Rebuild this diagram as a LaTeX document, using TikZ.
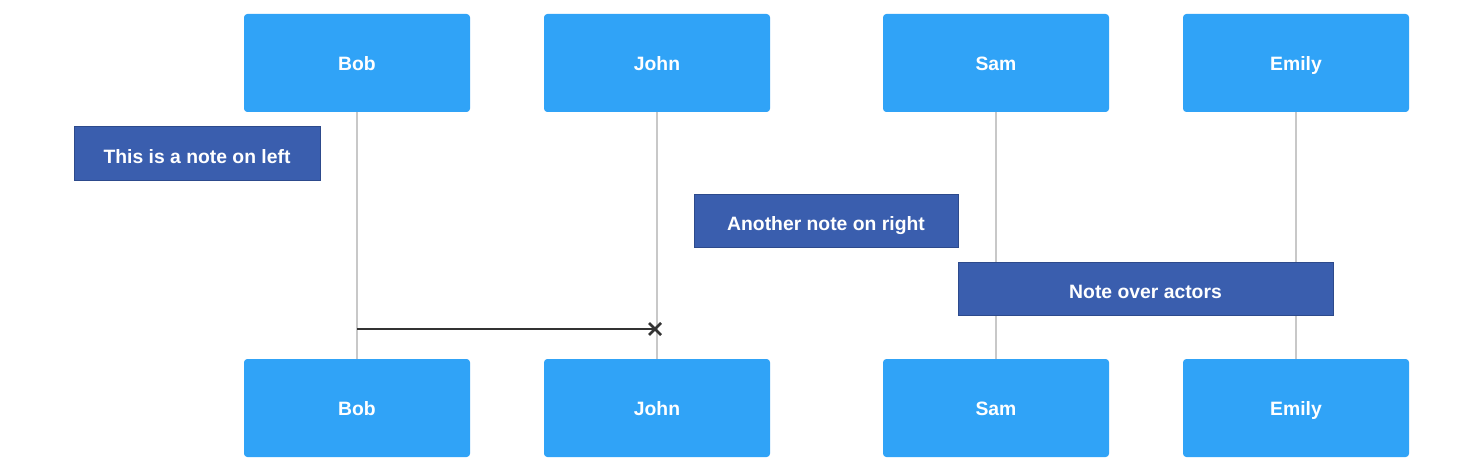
\documentclass[tikz,border=0pt]{standalone}
\usepackage{fontspec}
\setmainfont{Liberation Sans}
\usepackage{tikz}
\usetikzlibrary{shapes.misc}
\definecolor{actorblue}{RGB}{48,163,247}
\definecolor{noteblue}{RGB}{58,94,174}
\definecolor{noteedge}{RGB}{45,74,140}
\definecolor{lifegray}{RGB}{200,200,200}
\definecolor{msggray}{RGB}{51,51,51}
\tikzset{
  actor/.style={rectangle, rounded corners=2.5pt, fill=actorblue, text=white, minimum width=169.5pt, minimum height=73.5pt, text height=11.9pt, text depth=0pt, font=\fontsize{14.5}{17}\selectfont\bfseries},
  notebox/.style={rectangle, fill=noteblue, draw=noteedge, line width=0.75pt, text=white, minimum height=39.75pt, text height=15.6pt, text depth=0pt, font=\fontsize{14.5}{17}\selectfont\bfseries},
  lifeline/.style={draw=lifegray, line width=1.8pt},
  message/.style={draw=msggray, line width=1.5pt},
}
\newcommand{\sqactor}[3] {\node at (#1) (#2) [actor] {#3};}
\newcommand{\sqlifeline}[2] {\draw [lifeline] (#1.south) -- (#2.north);}

\begin{document}
\begin{tikzpicture}[x=0.75pt, y=-0.75pt]
\useasboundingbox (0,0) rectangle (1483,474);

\sqactor {357,63} {bobT} {Bob};
\sqactor {657,63} {johnT} {John};
\sqactor {996,63} {samT} {Sam};
\sqactor {1296,63} {emilyT} {Emily};

\sqactor {357,408} {bobB} {Bob};
\sqactor {657,408} {johnB} {John};
\sqactor {996,408} {samB} {Sam};
\sqactor {1296,408} {emilyB} {Emily};

\sqlifeline {bobT}{bobB};
\sqlifeline {johnT}{johnB};
\sqlifeline {samT}{samB};
\sqlifeline {emilyT}{emilyB};

\node at (197,153.5) (noteL) [notebox, minimum width=184.5pt] {This is a note on left};
\node at (826,220.5) (noteR) [notebox, minimum width=198pt] {Another note on right};
\node at (1145.5,288.5) (noteO) [notebox, minimum width=281.25pt] {Note over actors};

\coordinate (msgA) at (357,329);
\coordinate (msgB) at (655,329);
\draw [message] (msgA) -- (msgB);
\node at (msgB) (msgX) [cross out, draw=msggray, line width=2pt, minimum size=7pt, inner sep=0pt] {};

\end{tikzpicture}
\end{document}
